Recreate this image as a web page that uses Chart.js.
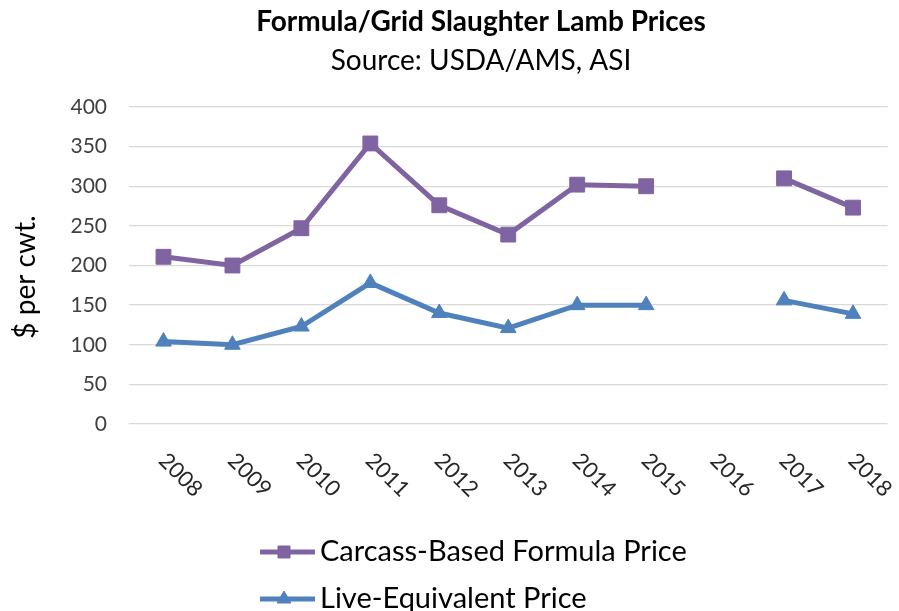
<!DOCTYPE html>
<html>
<head>
<meta charset="utf-8">
<script src="https://cdn.jsdelivr.net/npm/chart.js@4/dist/chart.umd.min.js"></script>
<style>
  html, body { margin: 0; padding: 0; background: #ffffff; }
  #wrap { width: 899px; height: 611px; position: relative; }
</style>
</head>
<body>
<div id="wrap"><canvas id="c"></canvas></div>
<script>
const chartTitle = 'Formula/Grid Slaughter Lamb Prices';
const chartSubtitle = 'Source: USDA/AMS, ASI';
const yAxisTitle = '$ per cwt.';
const categories = ['2008', '2009', '2010', '2011', '2012', '2013', '2014', '2015', '2016', '2017', '2018'];
const carcassLabel = 'Carcass-Based Formula Price';
const carcassValues = [211, 200, 247, 354, 276, 239, 302, 300, null, 310, 273];
const liveLabel = 'Live-Equivalent Price';
const liveValues = [104, 100, 123, 178, 140, 121, 150, 150, null, 156, 139];
const yTicks = [0, 50, 100, 150, 200, 250, 300, 350, 400];

const FONT = 'Lato, "Open Sans", sans-serif';
const PURPLE = '#8064A2';
const BLUE = '#4F81BD';

const customText = {
  id: 'customText',
  afterDraw(chart) {
    const ctx = chart.ctx;
    const xs = chart.scales.x;
    const area = chart.chartArea;
    ctx.save();
    // rotated x labels (clockwise, anchored at their start)
    ctx.font = '22px ' + FONT;
    ctx.fillStyle = '#262626';
    ctx.textAlign = 'left';
    ctx.textBaseline = 'middle';
    categories.forEach((c, i) => {
      const x = xs.getPixelForValue(i);
      ctx.save();
      ctx.translate(x - 1, area.bottom + 33);
      ctx.rotate(Math.PI / 4);
      ctx.fillText(c, 0, 0);
      ctx.restore();
    });
    // y axis title
    ctx.save();
    ctx.font = '28px ' + FONT;
    ctx.fillStyle = '#000000';
    ctx.textAlign = 'center';
    ctx.textBaseline = 'middle';
    ctx.translate(26, 277);
    ctx.rotate(-Math.PI / 2);
    ctx.fillText(yAxisTitle, 0, 0);
    ctx.restore();
    // titles
    ctx.textAlign = 'center';
    ctx.textBaseline = 'middle';
    ctx.fillStyle = '#000000';
    ctx.font = 'bold 28px ' + FONT;
    ctx.fillText(chartTitle, 481, 22);
    ctx.font = '28px ' + FONT;
    ctx.fillText(chartSubtitle, 481, 61);
    // legend
    const items = [
      { label: carcassLabel, color: PURPLE, ds: 0, y: 552, r: 8.5 },
      { label: liveLabel, color: BLUE, ds: 1, y: 599, r: 8 }
    ];
    items.forEach(it => {
      ctx.strokeStyle = it.color;
      ctx.fillStyle = it.color;
      ctx.lineWidth = 5;
      ctx.beginPath();
      ctx.moveTo(260, it.y);
      ctx.lineTo(315, it.y);
      ctx.stroke();
      const dsOpt = chart.data.datasets[it.ds];
      ctx.lineWidth = 1;
      Chart.helpers.drawPoint(ctx, {
        pointStyle: dsOpt.pointStyle,
        radius: it.r,
        rotation: 0,
        borderWidth: 1
      }, 284, it.y);
      ctx.fillStyle = '#000000';
      ctx.textAlign = 'left';
      ctx.textBaseline = 'middle';
      ctx.font = '29px ' + FONT;
      ctx.fillText(it.label, 320, it.y);
    });
    ctx.restore();
  }
};

new Chart(document.getElementById('c'), {
  type: 'line',
  data: {
    labels: categories,
    datasets: [
      {
        label: carcassLabel,
        data: carcassValues,
        borderColor: PURPLE,
        backgroundColor: PURPLE,
        borderWidth: 5,
        pointStyle: 'rect',
        pointRadius: 10.5,
        pointHoverRadius: 10.5,
        pointBackgroundColor: PURPLE,
        pointBorderColor: PURPLE,
        pointBorderWidth: 1,
        tension: 0,
        spanGaps: false
      },
      {
        label: liveLabel,
        data: liveValues,
        borderColor: BLUE,
        backgroundColor: BLUE,
        borderWidth: 5,
        pointStyle: 'triangle',
        pointRadius: 9,
        pointHoverRadius: 9,
        pointBackgroundColor: BLUE,
        pointBorderColor: BLUE,
        pointBorderWidth: 1,
        tension: 0,
        spanGaps: false
      }
    ]
  },
  options: {
    responsive: true,
    maintainAspectRatio: false,
    animation: false,
    layout: { padding: { top: 107, bottom: 187, left: 10, right: 11 } },
    plugins: {
      legend: { display: false },
      title: { display: false },
      tooltip: { enabled: false }
    },
    scales: {
      x: {
        display: false,
        offset: true
      },
      y: {
        min: 0,
        max: 400,
        afterBuildTicks(scale) {
          scale.ticks = yTicks.map(v => ({ value: v }));
        },
        afterFit(scale) { scale.width = 119; },
        grid: { color: '#D9D9D9', lineWidth: 1.3, drawTicks: false },
        border: { display: false },
        ticks: {
          padding: 22,
          color: '#404040',
          font: { family: FONT, size: 21 }
        }
      }
    }
  },
  plugins: [customText]
});
</script>
</body>
</html>
